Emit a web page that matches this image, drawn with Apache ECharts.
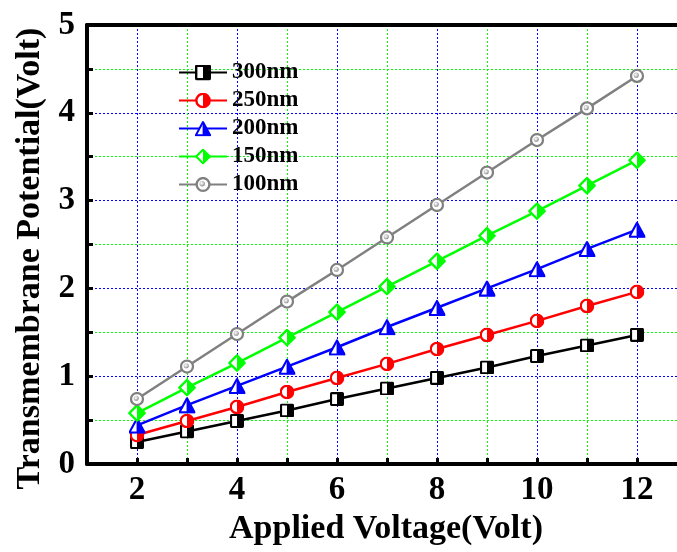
<!DOCTYPE html>
<html>
<head>
<meta charset="utf-8">
<script src="https://cdn.jsdelivr.net/npm/echarts@6/dist/echarts.min.js"></script>
<style>html,body{margin:0;padding:0;background:#fff;}#c{width:677px;height:552px;}</style>
</head>
<body>
<div id="c"></div>
<script>
var voltages = [2, 3, 4, 5, 6, 7, 8, 9, 10, 11, 12];
var seriesNames = ['300nm', '250nm', '200nm', '150nm', '100nm'];
var v300 = [0.25, 0.37, 0.49, 0.61, 0.74, 0.86, 0.98, 1.10, 1.23, 1.35, 1.47];
var v250 = [0.33, 0.49, 0.65, 0.82, 0.98, 1.14, 1.31, 1.47, 1.63, 1.80, 1.96];
var v200 = [0.44, 0.67, 0.89, 1.11, 1.33, 1.56, 1.78, 2.00, 2.22, 2.45, 2.67];
var v150 = [0.58, 0.87, 1.15, 1.44, 1.73, 2.02, 2.31, 2.60, 2.88, 3.17, 3.46];
var v100 = [0.74, 1.11, 1.48, 1.85, 2.21, 2.58, 2.95, 3.32, 3.69, 4.05, 4.42];
var xTickLabels = ['2', '4', '6', '8', '10', '12'];
var yTickLabels = ['0', '1', '2', '3', '4', '5'];

function svgSym(body) {
  return 'image://data:image/svg+xml;charset=utf-8,' + encodeURIComponent(
    '<svg xmlns="http://www.w3.org/2000/svg" width="40" height="40" viewBox="0 0 20 20">' + body + '</svg>');
}
var symSquare = svgSym('<rect x="1.5" y="1.5" width="17" height="17" rx="1" fill="#fff" stroke="#000" stroke-width="3"/><rect x="10" y="1.5" width="8.5" height="17" fill="#000"/>');
var symCircle = svgSym('<circle cx="10" cy="10" r="8.3" fill="#fff" stroke="#ff0000" stroke-width="3"/><path d="M10 1.7 A8.3 8.3 0 0 1 10 18.3 Z" fill="#ff0000"/>');
var symTri = svgSym('<polygon points="10,2 19,18.5 1,18.5" fill="#fff" stroke="#0000ff" stroke-width="2.5" stroke-linejoin="round"/><polygon points="10,2 19,18.5 10,18.5" fill="#0000ff" stroke="#0000ff" stroke-width="1" stroke-linejoin="round"/>');
var symDia = svgSym('<polygon points="10,1.5 18.5,10 10,18.5 1.5,10" fill="#fff" stroke="#00ff00" stroke-width="2.6" stroke-linejoin="round"/><polygon points="10,1.5 18.5,10 10,18.5" fill="#00ff00"/>');
var symBall = svgSym('<defs><radialGradient id="g" cx="0.4" cy="0.4" r="0.6"><stop offset="0" stop-color="#ffffff"/><stop offset="0.5" stop-color="#d0d0d0"/><stop offset="1" stop-color="#909090"/></radialGradient></defs><circle cx="10" cy="10" r="8" fill="#fff" stroke="#808080" stroke-width="3"/><circle cx="9" cy="9" r="3.4" fill="url(#g)"/>');

var allValues = [v300, v250, v200, v150, v100];
var colors = ['#000000', '#ff0000', '#0000ff', '#00ff00', '#808080'];
var symbols = [symSquare, symCircle, symTri, symDia, symBall];
var symSizes = [[14, 14], [15, 15], [17, 17], [18, 18], [15, 15]];

var serif = 'Liberation Serif';
var series = seriesNames.map(function (name, i) {
  return {
    name: name,
    type: 'line',
    data: voltages.map(function (v, j) { return [v, allValues[i][j]]; }),
    symbol: symbols[i],
    symbolSize: symSizes[i],
    showAllSymbol: true,
    lineStyle: { color: colors[i], width: 2.5 },
    itemStyle: { color: colors[i] },
    z: 2 + i
  };
});

var chart = echarts.init(document.getElementById('c'), null, { renderer: 'canvas' });
chart.setOption({
  animation: false,
  backgroundColor: '#fff',
  grid: { left: 87, right: 0, top: 25, bottom: 88, show: false },
  legend: {
    orient: 'vertical',
    left: 173,
    top: 56,
    itemWidth: 48,
    itemHeight: 20,
    itemGap: 5,
    data: seriesNames,
    textStyle: { fontFamily: serif, fontWeight: 'bold', fontSize: 23, color: '#000' }
  },
  xAxis: [{
    type: 'value',
    min: 1,
    max: 12.8,
    interval: 1,
    name: 'Applied Voltage(Volt)',
    nameLocation: 'middle',
    nameGap: 44,
    nameTextStyle: { fontFamily: serif, fontWeight: 'bold', fontSize: 34, color: '#000', padding: [0, 0, 0, 8] },
    axisLine: { show: true, lineStyle: { color: '#000', width: 4 } },
    axisTick: { show: true, inside: true, length: 6, lineStyle: { color: '#000', width: 3 } },
    axisLabel: {
      margin: 10, showMaxLabel: false,
      fontFamily: serif, fontWeight: 'bold', fontSize: 33, color: '#000',
      formatter: function (v) { return xTickLabels.indexOf(String(v)) >= 0 ? String(v) : ''; }
    },
    splitLine: { show: true, showMinLine: false, showMaxLine: false, lineStyle: { color: ['#0000ff', '#00ff00'], width: 1, type: [2, 2] } }
  }, {
    type: 'value',
    position: 'top',
    min: 1,
    max: 12.8,
    interval: 1,
    axisLine: { show: true, onZero: false, lineStyle: { color: '#000', width: 4 } },
    axisTick: { show: false },
    axisLabel: { show: false },
    splitLine: { show: false }
  }],
  yAxis: {
    type: 'value',
    min: 0,
    max: 5,
    interval: 0.5,
    name: 'Transmembrane Potential(Volt)',
    nameLocation: 'middle',
    nameGap: 38,
    nameTextStyle: { fontFamily: serif, fontWeight: 'bold', fontSize: 34, color: '#000', padding: [0, 28, 0, 0] },
    axisLine: { show: true, lineStyle: { color: '#000', width: 4 } },
    axisTick: { show: true, inside: true, length: 6, lineStyle: { color: '#000', width: 3 } },
    axisLabel: {
      margin: 12,
      fontFamily: serif, fontWeight: 'bold', fontSize: 33, color: '#000',
      formatter: function (v) { return yTickLabels.indexOf(String(v)) >= 0 ? String(v) : ''; }
    },
    splitLine: { show: true, showMinLine: false, showMaxLine: false, lineStyle: { color: ['#00ff00', '#0000ff'], width: 1, type: [2, 2] } }
  },
  series: series
});
</script>
</body>
</html>
